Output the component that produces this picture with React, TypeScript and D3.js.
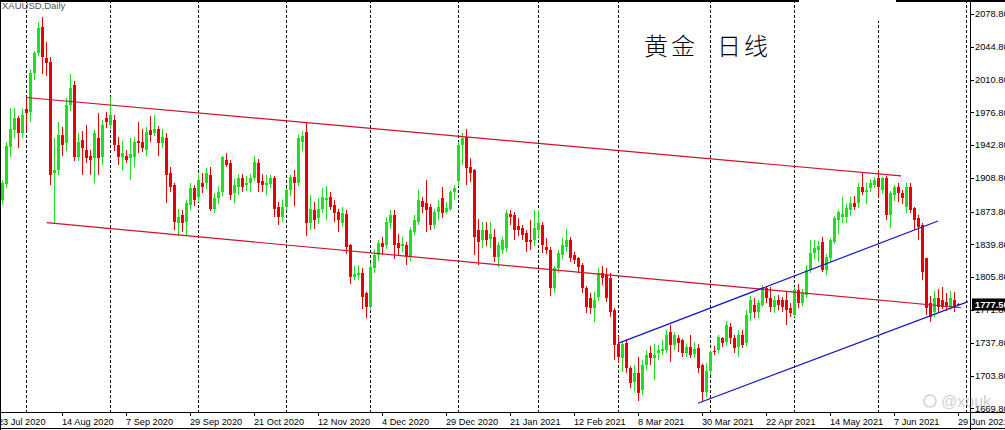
import React from "react";
import * as d3 from "d3";

type Row = [string, number, number, number, number]; // date, open, high, low, close

const ohlc: Row[] = [
  ["2020-07-23",1871,1898,1862,1888],["2020-07-24",1886,1907,1881,1903],["2020-07-27",1902,1946,1898,1942],
  ["2020-07-28",1941,1981,1930,1960],["2020-07-29",1958,1981,1950,1971],["2020-07-30",1971,1973,1940,1955],
  ["2020-07-31",1955,1980,1950,1974],["2020-08-03",1980,1992,1958,1976],["2020-08-04",1977,2021,1967,2018],
  ["2020-08-05",2018,2040,2010,2038],["2020-08-06",2038,2070,2035,2064],["2020-08-07",2065,2076,2017,2034],
  ["2020-08-10",2033,2050,2015,2028],["2020-08-11",2029,2034,1901,1912],["2020-08-12",1914,1950,1862,1917],
  ["2020-08-13",1917,1967,1912,1953],["2020-08-14",1953,1962,1932,1943],["2020-08-17",1945,1992,1937,1984],
  ["2020-08-18",1984,2017,1978,2002],["2020-08-19",2005,2009,1926,1930],["2020-08-20",1930,1955,1926,1946],
  ["2020-08-21",1948,1957,1912,1940],["2020-08-24",1938,1964,1924,1929],["2020-08-25",1931,1938,1912,1927],
  ["2020-08-26",1929,1958,1903,1955],["2020-08-27",1950,1976,1912,1929],["2020-08-28",1930,1969,1922,1964],
  ["2020-08-31",1971,1977,1961,1967],["2020-09-01",1964,1993,1960,1974],["2020-09-02",1969,1974,1937,1943],
  ["2020-09-03",1943,1951,1922,1930],["2020-09-04",1930,1947,1917,1935],["2020-09-07",1932,1938,1924,1927],
  ["2020-09-08",1929,1950,1907,1934],["2020-09-09",1930,1951,1920,1946],["2020-09-10",1947,1967,1935,1945],
  ["2020-09-11",1946,1960,1936,1940],["2020-09-14",1938,1962,1932,1956],["2020-09-15",1958,1973,1946,1953],
  ["2020-09-16",1955,1974,1952,1960],["2020-09-17",1960,1963,1932,1945],["2020-09-18",1945,1960,1940,1951],
  ["2020-09-21",1950,1955,1883,1912],["2020-09-22",1914,1920,1894,1899],["2020-09-23",1901,1904,1855,1863],
  ["2020-09-24",1862,1877,1849,1868],["2020-09-25",1870,1875,1853,1862],["2020-09-28",1863,1886,1849,1883],
  ["2020-09-29",1881,1903,1876,1898],["2020-09-30",1898,1901,1880,1886],["2020-10-01",1889,1913,1884,1907],
  ["2020-10-02",1904,1914,1893,1899],["2020-10-05",1903,1919,1897,1914],["2020-10-06",1912,1920,1874,1877],
  ["2020-10-07",1877,1893,1872,1888],["2020-10-08",1888,1900,1882,1894],["2020-10-09",1894,1932,1890,1930],
  ["2020-10-12",1927,1935,1920,1922],["2020-10-13",1924,1927,1886,1891],["2020-10-14",1893,1908,1883,1901],
  ["2020-10-15",1899,1913,1891,1909],["2020-10-16",1909,1913,1894,1899],["2020-10-19",1901,1911,1895,1904],
  ["2020-10-20",1903,1913,1894,1909],["2020-10-21",1909,1932,1906,1925],["2020-10-22",1924,1928,1894,1903],
  ["2020-10-23",1906,1913,1894,1901],["2020-10-26",1901,1912,1891,1903],["2020-10-27",1902,1912,1898,1909],
  ["2020-10-28",1909,1911,1868,1877],["2020-10-29",1879,1884,1860,1868],["2020-10-30",1868,1886,1863,1879],
  ["2020-11-02",1879,1898,1875,1896],["2020-11-03",1896,1912,1890,1910],["2020-11-04",1910,1917,1880,1903],
  ["2020-11-05",1903,1953,1900,1950],["2020-11-06",1946,1957,1937,1952],["2020-11-09",1956,1967,1849,1862],
  ["2020-11-10",1862,1891,1855,1877],["2020-11-11",1875,1884,1856,1865],["2020-11-12",1867,1888,1861,1877],
  ["2020-11-13",1877,1898,1872,1889],["2020-11-16",1886,1900,1865,1888],["2020-11-17",1889,1894,1875,1879],
  ["2020-11-18",1881,1886,1863,1872],["2020-11-19",1873,1877,1853,1865],["2020-11-20",1862,1879,1858,1872],
  ["2020-11-23",1871,1875,1830,1837],["2020-11-24",1839,1840,1799,1806],["2020-11-25",1806,1817,1803,1809],
  ["2020-11-26",1808,1818,1803,1810],["2020-11-27",1810,1815,1773,1785],["2020-11-30",1789,1790,1763,1775],
  ["2020-12-01",1775,1820,1773,1816],["2020-12-02",1815,1834,1810,1829],["2020-12-03",1829,1844,1823,1841],
  ["2020-12-04",1841,1848,1829,1837],["2020-12-07",1839,1868,1835,1863],["2020-12-08",1862,1875,1856,1870],
  ["2020-12-09",1870,1875,1825,1839],["2020-12-10",1841,1851,1829,1836],["2020-12-11",1838,1848,1832,1840],
  ["2020-12-14",1839,1842,1818,1827],["2020-12-15",1827,1858,1823,1855],["2020-12-16",1853,1870,1850,1865],
  ["2020-12-17",1863,1896,1860,1886],["2020-12-18",1885,1889,1872,1879],["2020-12-21",1883,1907,1853,1876],
  ["2020-12-22",1879,1882,1855,1860],["2020-12-23",1860,1877,1856,1873],["2020-12-24",1873,1886,1865,1879],
  ["2020-12-28",1888,1899,1867,1872],["2020-12-29",1873,1884,1871,1878],["2020-12-30",1877,1896,1874,1894],
  ["2020-12-31",1894,1901,1886,1898],["2021-01-04",1906,1946,1900,1943],["2021-01-05",1943,1955,1922,1950],
  ["2021-01-06",1951,1960,1901,1919],["2021-01-07",1920,1929,1905,1914],["2021-01-08",1917,1918,1829,1847],
  ["2021-01-11",1855,1866,1818,1842],["2021-01-12",1844,1863,1836,1855],["2021-01-13",1855,1863,1838,1844],
  ["2021-01-14",1845,1863,1836,1851],["2021-01-15",1847,1856,1822,1827],["2021-01-18",1827,1842,1816,1839],
  ["2021-01-19",1834,1848,1830,1844],["2021-01-20",1836,1876,1832,1872],["2021-01-21",1871,1876,1860,1868],
  ["2021-01-22",1870,1873,1844,1855],["2021-01-25",1859,1867,1849,1855],["2021-01-26",1857,1860,1844,1850],
  ["2021-01-27",1852,1855,1832,1842],["2021-01-28",1844,1865,1834,1842],["2021-01-29",1844,1875,1838,1857],
  ["2021-02-01",1855,1875,1848,1862],["2021-02-02",1860,1863,1831,1839],["2021-02-03",1837,1846,1830,1834],
  ["2021-02-04",1834,1837,1786,1795],["2021-02-05",1795,1817,1789,1815],["2021-02-08",1815,1834,1810,1831],
  ["2021-02-09",1829,1846,1825,1839],["2021-02-10",1837,1856,1832,1844],["2021-02-11",1844,1848,1822,1826],
  ["2021-02-12",1829,1832,1819,1824],["2021-02-15",1826,1827,1810,1816],["2021-02-16",1818,1821,1789,1795],
  ["2021-02-17",1795,1797,1769,1775],["2021-02-18",1784,1789,1768,1774],["2021-02-19",1774,1790,1759,1782],
  ["2021-02-22",1785,1815,1781,1810],["2021-02-23",1810,1817,1798,1805],["2021-02-24",1808,1815,1780,1784],
  ["2021-02-25",1805,1810,1765,1770],["2021-02-26",1772,1774,1720,1735],["2021-03-01",1737,1745,1717,1723],
  ["2021-03-02",1722,1740,1707,1737],["2021-03-03",1738,1742,1706,1712],["2021-03-04",1712,1714,1691,1696],
  ["2021-03-05",1697,1715,1688,1706],["2021-03-08",1706,1723,1677,1686],["2021-03-09",1689,1720,1684,1715],
  ["2021-03-10",1715,1730,1710,1725],["2021-03-11",1727,1734,1715,1722],["2021-03-12",1722,1737,1699,1725],
  ["2021-03-15",1727,1735,1720,1730],["2021-03-16",1729,1741,1725,1731],["2021-03-17",1730,1751,1727,1746],
  ["2021-03-18",1749,1756,1718,1735],["2021-03-19",1735,1749,1730,1746],["2021-03-22",1743,1746,1728,1738],
  ["2021-03-23",1741,1742,1723,1727],["2021-03-24",1727,1737,1723,1733],["2021-03-25",1733,1746,1722,1725],
  ["2021-03-26",1726,1739,1722,1731],["2021-03-29",1732,1737,1706,1712],["2021-03-30",1715,1716,1676,1687],
  ["2021-03-31",1687,1717,1682,1708],["2021-04-01",1708,1730,1704,1728],["2021-04-05",1729,1734,1725,1728],
  ["2021-04-06",1730,1746,1727,1744],["2021-04-07",1743,1744,1733,1738],["2021-04-08",1739,1760,1735,1756],
  ["2021-04-09",1754,1758,1737,1743],["2021-04-12",1743,1746,1727,1732],["2021-04-13",1733,1751,1723,1746],
  ["2021-04-14",1746,1751,1732,1735],["2021-04-15",1738,1772,1734,1767],["2021-04-16",1769,1786,1760,1782],
  ["2021-04-19",1777,1784,1763,1770],["2021-04-20",1770,1782,1763,1779],["2021-04-21",1777,1798,1775,1795],
  ["2021-04-22",1795,1797,1779,1784],["2021-04-23",1784,1796,1770,1775],["2021-04-26",1775,1786,1769,1782],
  ["2021-04-27",1782,1787,1772,1777],["2021-04-28",1782,1785,1770,1775],["2021-04-29",1782,1790,1756,1772],
  ["2021-04-30",1774,1779,1765,1769],["2021-05-03",1767,1796,1764,1793],["2021-05-04",1793,1799,1774,1779],
  ["2021-05-05",1779,1794,1776,1789],["2021-05-06",1787,1818,1784,1813],["2021-05-07",1813,1844,1810,1831],
  ["2021-05-10",1831,1844,1825,1836],["2021-05-11",1834,1843,1822,1838],["2021-05-12",1842,1848,1811,1813],
  ["2021-05-13",1813,1830,1808,1827],["2021-05-14",1826,1846,1822,1844],["2021-05-17",1842,1869,1840,1867],
  ["2021-05-18",1865,1876,1851,1873],["2021-05-19",1868,1889,1862,1871],["2021-05-20",1868,1882,1862,1878],
  ["2021-05-21",1876,1889,1869,1883],["2021-05-24",1883,1890,1875,1879],["2021-05-25",1883,1903,1878,1899],
  ["2021-05-26",1899,1914,1891,1894],["2021-05-27",1894,1903,1882,1896],["2021-05-28",1898,1908,1894,1904],
  ["2021-05-31",1901,1910,1898,1907],["2021-06-01",1909,1917,1889,1899],["2021-06-02",1896,1910,1892,1909],
  ["2021-06-03",1909,1911,1865,1870],["2021-06-04",1870,1895,1857,1893],["2021-06-07",1891,1901,1885,1899],
  ["2021-06-08",1899,1903,1884,1893],["2021-06-09",1893,1896,1882,1888],["2021-06-10",1879,1903,1872,1899],
  ["2021-06-11",1899,1903,1872,1876],["2021-06-14",1878,1879,1855,1865],["2021-06-15",1867,1870,1844,1858],
  ["2021-06-16",1860,1862,1803,1811],["2021-06-17",1826,1826,1767,1774],["2021-06-18",1779,1786,1759,1765],
  ["2021-06-21",1770,1791,1764,1784],["2021-06-22",1784,1794,1770,1775],["2021-06-23",1782,1796,1773,1775],
  ["2021-06-24",1780,1789,1771,1775],["2021-06-25",1775,1791,1772,1784],["2021-06-28",1782,1790,1770,1775],
  ["2021-06-29",1778.5,1779,1776.5,1777.5],
];

// month separators: bar index (the last one is the next month's first bar)
const separatorIdx = [7, 28, 50, 72, 93, 115, 135, 155, 178, 199, 220, 242];

const dateLabels: [number, string][] = [
  [0, "23 Jul 2020"], [16, "14 Aug 2020"], [32, "7 Sep 2020"], [48, "29 Sep 2020"],
  [64, "21 Oct 2020"], [80, "12 Nov 2020"], [96, "4 Dec 2020"], [112, "29 Dec 2020"],
  [128, "21 Jan 2021"], [144, "12 Feb 2021"], [160, "8 Mar 2021"], [176, "30 Mar 2021"],
  [192, "22 Apr 2021"], [208, "14 May 2021"], [224, "7 Jun 2021"], [240, "29 Jun 2021"],
];

const priceTicks = [2078.8, 2044.8, 2010.8, 1976.8, 1942.8, 1908.8, 1873.8, 1839.8, 1805.8, 1771.8, 1737.8, 1703.8, 1669.8];

// trend lines: [barIndex, price] endpoints
const redUpper: [number, number][] = [[7, 1992.2], [225.75, 1910.8]];
const redLower: [number, number][] = [[12.2, 1862.3], [240.8, 1774.1]];
const blueUpper: [number, number][] = [[155, 1737.2], [235, 1864.1]];
const blueLower: [number, number][] = [[175, 1675.0], [242.5, 1780.4]];

const lastPrice = 1777.5;

const BULL = "#1ee01e";
const BEAR = "#e80000";

export default function App() {
  const W = 1005, H = 430;
  const plotRight = 970, plotBottom = 412;
  const x = d3.scaleLinear().domain([0, 1]).range([-2, 2]);
  const y = d3.scaleLinear().domain([1669.8, 2078.8]).range([408.3, 14]);
  const line = d3.line<[number, number]>().x(d => x(d[0])).y(d => y(d[1]));

  return (
    <svg width={W} height={H} style={{ position: "absolute", left: 0, top: 0, background: "#fff" }}
      fontFamily="'Liberation Sans', Arial, sans-serif">
      <defs>
        <clipPath id="plot"><rect x={1} y={1} width={plotRight - 1} height={plotBottom - 1} /></clipPath>
      </defs>
      <rect x={0} y={0} width={W} height={H} fill="#fff" />
      <g clipPath="url(#plot)">
        {separatorIdx.map((k, i) => (
          <line key={i} x1={Math.round(x(k)) + 0.5} x2={Math.round(x(k)) + 0.5} y1={0} y2={plotBottom}
            stroke="#000" strokeWidth={1} strokeDasharray="3,2" />
        ))}
        <g shapeRendering="crispEdges">
          {ohlc.map((r, k) => {
            const [, o, h, l, c] = r;
            const cx = Math.round(x(k));
            const col = c >= o ? BULL : BEAR;
            const yT = Math.round(y(Math.max(o, c)));
            const yB = Math.round(y(Math.min(o, c)));
            return (
              <g key={k}>
                <rect x={cx} y={Math.round(y(h))} width={1} height={Math.max(1, Math.round(y(l)) - Math.round(y(h)))} fill={col} />
                <rect x={cx - 1} y={yT} width={3} height={Math.max(1, yB - yT)} fill={col} />
              </g>
            );
          })}
        </g>
        <path d={line(redUpper) || ""} stroke="#d0102a" strokeWidth={1.2} fill="none" />
        <path d={line(redLower) || ""} stroke="#d0102a" strokeWidth={1.2} fill="none" />
        <path d={line(blueUpper) || ""} stroke="#1515c8" strokeWidth={1.2} fill="none" />
        <path d={line(blueLower) || ""} stroke="#1515c8" strokeWidth={1.2} fill="none" />
      </g>
      {/* white patch at top */}
      <rect x={799} y={0} width={97} height={21} fill="#fff" />
      {/* frame */}
      <g shapeRendering="crispEdges" stroke="#000">
        <line x1={0} x2={799} y1={0.5} y2={0.5} strokeWidth={2} />
        <line x1={896} x2={W} y1={0.5} y2={0.5} strokeWidth={2} />
        <line x1={0.5} x2={0.5} y1={0} y2={H} />
        <line x1={plotRight + 0.5} x2={plotRight + 0.5} y1={0} y2={H} />
        <line x1={0} x2={W} y1={plotBottom + 0.5} y2={plotBottom + 0.5} />
        <line x1={0} x2={W} y1={H - 1.5} y2={H - 1.5} />
      </g>
      {/* price axis */}
      {priceTicks.map((p, i) => (
        <g key={i}>
          <line x1={plotRight} x2={plotRight + 4} y1={Math.round(y(p)) + 0.5} y2={Math.round(y(p)) + 0.5} stroke="#000" />
          <text x={plotRight + 5} y={y(p) + 3.3} fontSize={9.3} fill="#000">{p.toFixed(2)}</text>
        </g>
      ))}
      <rect x={972} y={y(lastPrice) - 6} width={W - 972} height={12} fill="#000" />
      <text x={plotRight + 5} y={y(lastPrice) + 3.5} fontSize={9.3} fontWeight="bold" fill="#fff">{lastPrice.toFixed(2)}</text>
      {/* date axis */}
      {dateLabels.map(([k, s], i) => (
        <g key={i}>
          <line x1={Math.round(x(k)) + 0.5} x2={Math.round(x(k)) + 0.5} y1={plotBottom} y2={plotBottom + 4} stroke="#000" />
          <text x={x(k)} y={425} fontSize={9.2} fill="#000">{s}</text>
        </g>
      ))}
      <text x={2} y={9} fontSize={9.5} fill="#555">XAUUSD,Daily</text>
      <text x={644} y={55} fontSize={24} fontWeight={300} fontFamily="'Noto Sans CJK SC', sans-serif" fill="#000" letterSpacing={3}>黄金</text>
      <text x={717} y={55} fontSize={24} fontWeight={300} fontFamily="'Noto Sans CJK SC', sans-serif" fill="#000" letterSpacing={3}>日线</text>
      {/* watermark */}
      <g opacity={0.45}>
        <circle cx={930} cy={401} r={6} fill="none" stroke="#999" strokeWidth={1.5} />
        <text x={941} y={407} fontSize={16} fill="#999">@xouk</text>
      </g>
    </svg>
  );
}
